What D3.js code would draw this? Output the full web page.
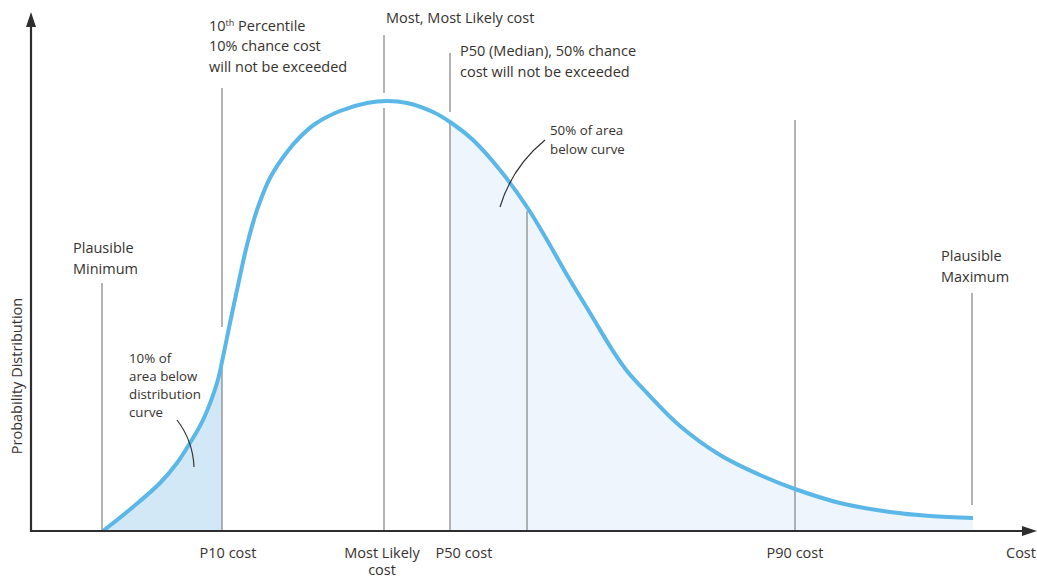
<!DOCTYPE html>
<html>
<head>
<meta charset="utf-8">
<script src="https://cdn.jsdelivr.net/npm/d3@7"></script>
<style>
  html, body { margin: 0; padding: 0; background: #fff; }
  svg { display: block; }
  text { font-family: "Open Sans", "Noto Sans", sans-serif; fill: #36322f; }
</style>
</head>
<body>
<svg id="chart" width="1037" height="578"></svg>
<script>
// ---- Data (cost units, density units) ----
const curveCost = [72, 102, 129, 146, 159, 172, 186, 192, 199, 206, 216, 226, 239, 256, 269, 284, 309, 336, 356, 376, 402, 419, 442, 469, 496, 516, 536, 559, 582, 596, 616, 649, 689, 729, 764, 809, 859, 899, 942];
const curveDensity = [0, 4.8, 9.6, 13.6, 17.6, 22.2, 29.6, 34.8, 41.6, 48.2, 57.2, 64.2, 70.6, 75.8, 78.8, 81.4, 84.0, 85.6, 86.0, 85.6, 83.8, 81.8, 78.2, 72.2, 64.8, 58.2, 51.2, 43.6, 36.0, 32.0, 27.6, 21.0, 15.2, 11.2, 8.4, 5.6, 3.8, 3.0, 2.6];

const plausibleMin = 71;
const p10 = 191;
const mostLikely = 353;
const p50 = 419;
const midMarker = 496;
const p90 = 764;
const plausibleMax = 941;

const bottomLabels = [
  { cost: 197, lines: ["P10 cost"] },
  { cost: 351, lines: ["Most Likely", "cost"] },
  { cost: 433, lines: ["P50 cost"] },
  { cost: 764, lines: ["P90 cost"] }
];

// ---- Scales ----
const svg = d3.select("#chart");
const x = d3.scaleLinear().domain([0, 1000]).range([31, 1031]);
const y = d3.scaleLinear().domain([0, 100]).range([531, 31]);

const pts = curveCost.map((c, i) => ({ c, d: curveDensity[i] }));

const defs = svg.append("defs");
defs.append("clipPath").attr("id", "clipLeft").append("rect")
  .attr("x", x(curveCost[0]) - 2).attr("y", 0)
  .attr("width", x(p10) - x(curveCost[0]) + 2).attr("height", y(0));
defs.append("clipPath").attr("id", "clipRight").append("rect")
  .attr("x", x(p50)).attr("y", 0)
  .attr("width", x(curveCost[curveCost.length - 1]) - x(p50)).attr("height", y(0));

const curveType = d3.curveCatmullRom.alpha(0.5);
const area = d3.area().x(d => x(d.c)).y0(y(0)).y1(d => y(d.d)).curve(curveType);
const line = d3.line().x(d => x(d.c)).y(d => y(d.d)).curve(curveType);

svg.append("path").datum(pts).attr("d", area).attr("fill", "#d3e8f6").attr("clip-path", "url(#clipLeft)");
svg.append("path").datum(pts).attr("d", area).attr("fill", "#eef5fc").attr("clip-path", "url(#clipRight)");

// ---- Marker lines ----
const segs = [
  [plausibleMin, 49.6, 0],
  [p10, 88.6, 40.8], [p10, 33.6, 0],
  [mostLikely, 99.2, 87.6], [mostLikely, 84.6, 0],
  [p50, 95.6, 83.8], [p50, 81.8, 0],
  [midMarker, 64.0, 0],
  [p90, 82.2, 0],
  [plausibleMax, 47.6, 5.2]
];
svg.selectAll("line.marker").data(segs).enter().append("line")
  .attr("class", "marker")
  .attr("x1", d => x(d[0])).attr("x2", d => x(d[0]))
  .attr("y1", d => y(d[1])).attr("y2", d => y(d[2]))
  .attr("stroke", "#8c8c8c").attr("stroke-width", 1.3);

// ---- Curve ----
svg.append("path").datum(pts).attr("d", line)
  .attr("fill", "none").attr("stroke", "#5ab7e8").attr("stroke-width", 4)
  .attr("stroke-linecap", "butt");

// ---- Leader lines ----
svg.append("path").attr("d", `M${x(146)},${y(22.2)} Q${x(162)},${y(18)} ${x(163)},${y(12.8)}`)
  .attr("fill", "none").attr("stroke", "#333").attr("stroke-width", 1.2);
svg.append("path").attr("d", `M${x(514)},${y(78.2)} Q${x(481)},${y(72.8)} ${x(469)},${y(64.8)}`)
  .attr("fill", "none").attr("stroke", "#333").attr("stroke-width", 1.2);

// ---- Axes ----
const axisColor = "#2e2e2e";
svg.append("line").attr("x1", x(0)).attr("x2", x(0)).attr("y1", y(0) + 1).attr("y2", 24)
  .attr("stroke", axisColor).attr("stroke-width", 2.2);
svg.append("path").attr("d", `M${x(0)},12 L${x(0) - 5},27 L${x(0) + 5},27 Z`).attr("fill", axisColor);
svg.append("line").attr("x1", x(0) - 1).attr("x2", 1024).attr("y1", y(0)).attr("y2", y(0))
  .attr("stroke", axisColor).attr("stroke-width", 2.2);
svg.append("path").attr("d", `M1037,${y(0)} L1022,${y(0) - 5} L1022,${y(0) + 5} Z`).attr("fill", axisColor);

// ---- Text ----
function block(xp, yp, lines, size, lh, anchor) {
  const t = svg.append("text").attr("font-size", size).attr("text-anchor", anchor || "start");
  lines.forEach((l, i) => t.append("tspan").attr("x", xp).attr("y", yp + i * lh).text(l));
  return t;
}

const FS = 14.5;
// 10th percentile with superscript
const t10 = svg.append("text").attr("font-size", FS).attr("x", 209).attr("y", 31);
t10.append("tspan").text("10");
t10.append("tspan").attr("font-size", 9).attr("dy", -5).text("th");
t10.append("tspan").attr("dy", 5).text(" Percentile");
block(209, 51, ["10% chance cost", "will not be exceeded"], FS, 21);

block(386, 23, ["Most, Most Likely cost"], FS, 21);
block(460, 56, ["P50 (Median), 50% chance", "cost will not be exceeded"], FS, 21);
block(550, 135, ["50% of area", "below curve"], 13.3, 19);
block(73, 253, ["Plausible", "Minimum"], FS, 21);
block(129, 363, ["10% of", "area below", "distribution", "curve"], 13.3, 18);
block(941, 261, ["Plausible", "Maximum"], FS, 21);

bottomLabels.forEach(b => block(x(b.cost), 558, b.lines, FS, 17, "middle"));
block(1006, 558, ["Cost"], FS, 19);

svg.append("text").attr("font-size", FS).attr("text-anchor", "middle")
  .attr("transform", "translate(22,376) rotate(-90)").text("Probability Distribution");
</script>
</body>
</html>
